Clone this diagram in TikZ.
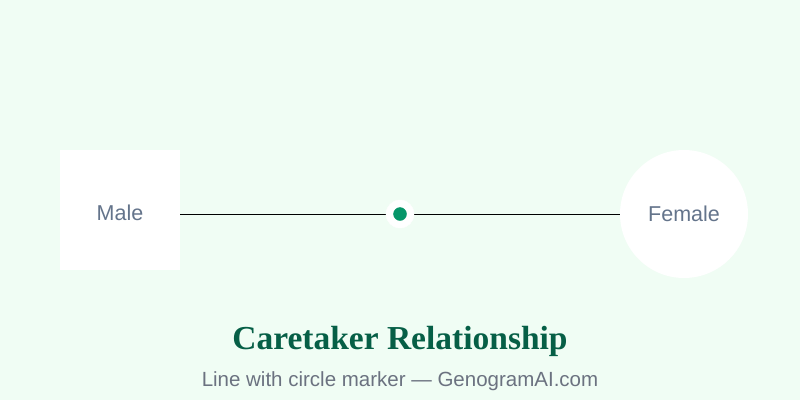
\documentclass[tikz,border=0pt]{standalone}
\usepackage{fontspec}
\setmainfont{Liberation Serif}
\setsansfont{Liberation Sans}
\usepackage{tikz}
\usetikzlibrary{positioning}

\definecolor{bgmint}{HTML}{F0FDF4}
\definecolor{markgreen}{HTML}{059669}
\definecolor{titlegreen}{HTML}{065F46}
\definecolor{labelgray}{HTML}{64748B}
\definecolor{subgray}{HTML}{6B7280}

\begin{document}
\begin{tikzpicture}[x=1pt,y=-1pt,
    person/.style={fill=white,draw=none,inner sep=0pt,
        font=\sffamily\fontsize{21.5}{25}\selectfont,text=labelgray},
    relline/.style={draw=black,line width=0.75pt}]
            \fill[bgmint] (0,0) rectangle (800,400);
            \useasboundingbox (0,0) rectangle (800,400);

            \node[person,rectangle,minimum width=120pt,minimum height=120pt] (male) at (120,210) {};
            \node[text=labelgray,font=\sffamily\fontsize{21.5}{25}\selectfont] (malelabel) at (120,213) {Male};
            \node[person,circle,minimum size=128pt] (female) at (684,214) {Female};

            \coordinate (malee) at (180,214);
            \draw[relline] (malee) -- (female.west);
            \filldraw[white] (400,214) coordinate(mark) circle (14);
            \filldraw[markgreen] (mark) circle (6.5);

            \node[font=\bfseries\fontsize{33.5}{39}\selectfont,text=titlegreen] (title) at (400,341) {Caretaker Relationship};
            \node[font=\sffamily\fontsize{20.5}{24}\selectfont,text=subgray] (subtitle) at (400,381) {Line with circle marker --- GenogramAI.com};
        \end{tikzpicture}
\end{document}
